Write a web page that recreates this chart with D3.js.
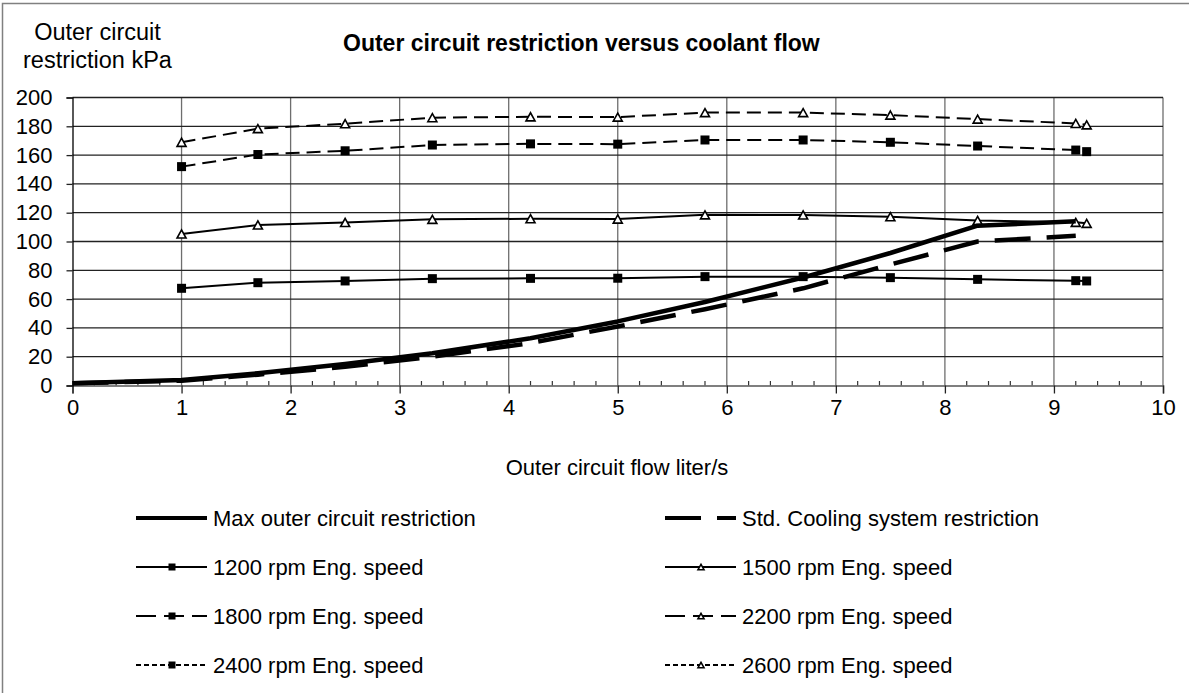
<!DOCTYPE html>
<html>
<head>
<meta charset="utf-8">
<script src="https://cdn.jsdelivr.net/npm/d3@7"></script>
<style>
  body { margin: 0; background: #fff; }
  svg { font-family: "Liberation Sans", Arial, sans-serif; }
</style>
</head>
<body>
<div class="chart"></div>
<script>
// flow points for the engine speed series (liter/s)
var flowX = [1, 1.7, 2.5, 3.3, 4.2, 5, 5.8, 6.7, 7.5, 8.3, 9.2, 9.3];
// flow points for the restriction curves
var curveX = [0, 1, 1.7, 2.5, 3.3, 4.2, 5, 5.8, 6.7, 7.5, 8.3, 9.2];

var maxRestriction = [1.5, 3.8, 8.5, 15, 22.4, 32.8, 44.5, 58, 75, 92, 111, 114];
var stdRestriction = [1.5, 3.3, 7.5, 13, 20, 29.5, 41, 53, 67.5, 84, 100, 104];

var rpm1200 = [67.5, 71.4, 72.6, 74.2, 74.4, 74.5, 75.6, 75.6, 74.9, 73.7, 72.8, 72.6];
var rpm1500 = [105.2, 111.5, 113.2, 115.4, 115.8, 115.6, 118.5, 118.4, 117.2, 114.6, 113.3, 112.6];
var rpm1800 = [152, 160.4, 163, 167, 167.8, 167.6, 170.5, 170.5, 168.9, 166.3, 163.5, 162.4];
var rpm2200 = [168.9, 178.4, 181.8, 186, 186.6, 186.4, 189.5, 189.5, 187.8, 185, 182, 181];
var rpm2400 = [];
var rpm2600 = [];

var seriesNames = [
  "Max outer circuit restriction", "Std. Cooling system restriction",
  "1200 rpm Eng. speed", "1500 rpm Eng. speed",
  "1800 rpm Eng. speed", "2200 rpm Eng. speed",
  "2400 rpm Eng. speed", "2600 rpm Eng. speed"
];
var yTicks = [0, 20, 40, 60, 80, 100, 120, 140, 160, 180, 200];
var xTicks = [0, 1, 2, 3, 4, 5, 6, 7, 8, 9, 10];

var titleText = "Outer circuit restriction versus coolant flow";
var yTitle = ["Outer circuit", "restriction kPa"];
var xTitle = "Outer circuit flow liter/s";

var svgWidth = 1189;
var svgHeight = 693;
var margin = { top: 97.5, left: 72.5 };
var width = 1090.5;
var height = 288;

var series = [
  { name: seriesNames[0], x: curveX, y: maxRestriction, width: 4.5, dash: null, marker: null },
  { name: seriesNames[1], x: curveX, y: stdRestriction, width: 4.5, dash: "36,16", marker: null },
  { name: seriesNames[2], x: flowX, y: rpm1200, width: 2, dash: null, marker: "square" },
  { name: seriesNames[3], x: flowX, y: rpm1500, width: 2, dash: null, marker: "triangle" },
  { name: seriesNames[4], x: flowX, y: rpm1800, width: 2, dash: "14,7", marker: "square" },
  { name: seriesNames[5], x: flowX, y: rpm2200, width: 2, dash: "14,7", marker: "triangle" },
  { name: seriesNames[6], x: flowX, y: rpm2400, width: 2, dash: "5,3", marker: "square" },
  { name: seriesNames[7], x: flowX, y: rpm2600, width: 2, dash: "5,3", marker: "triangle" }
];

var svg = d3.select(".chart")
  .append("svg")
  .attr("width", svgWidth)
  .attr("height", svgHeight);

// outer frame (only left and top edges show in the picture)
svg.append("rect")
  .attr("x", 2.5).attr("y", 3.5)
  .attr("width", svgWidth + 20).attr("height", svgHeight + 20)
  .attr("fill", "none").attr("stroke", "#808080").attr("stroke-width", 1.5);

var chart = svg.append("g")
  .attr("transform", "translate(" + margin.left + "," + margin.top + ")");

var xScale = d3.scaleLinear().domain([0, 10]).range([0, width]);
var yScale = d3.scaleLinear().domain([0, 200]).range([height, 0]);

// vertical gridlines
chart.append("g")
  .selectAll("line")
  .data(xTicks.slice(1))
  .enter().append("line")
    .attr("x1", function(d) { return xScale(d); })
    .attr("x2", function(d) { return xScale(d); })
    .attr("y1", 0).attr("y2", height)
    .attr("stroke", "#6e6e6e").attr("stroke-width", 1.3);

// horizontal gridlines
chart.append("g")
  .selectAll("line")
  .data(yTicks.slice(1))
  .enter().append("line")
    .attr("x1", 0).attr("x2", width)
    .attr("y1", function(d) { return yScale(d); })
    .attr("y2", function(d) { return yScale(d); })
    .attr("stroke", "#222").attr("stroke-width", 1.3);

// x axis with minor ticks
var minorTicks = d3.range(0, 50).map(function(i) { return i / 5; }).filter(function(d, i) { return i % 5 != 0; });
chart.append("g")
  .selectAll("line")
  .data(minorTicks)
  .enter().append("line")
    .attr("x1", function(d) { return xScale(d); })
    .attr("x2", function(d) { return xScale(d); })
    .attr("y1", height - 4.5).attr("y2", height)
    .attr("stroke", "#333").attr("stroke-width", 1.2);

var bottomAxis = d3.axisBottom(xScale).tickValues(xTicks).tickSize(8).tickPadding(6).tickFormat(d3.format("d"));
var xAxisG = chart.append("g")
  .attr("transform", "translate(0," + height + ")")
  .call(bottomAxis);
xAxisG.select(".domain").attr("stroke", "#555").attr("stroke-width", 1.5);
xAxisG.selectAll(".tick line").attr("stroke", "#222").attr("stroke-width", 1.3);
xAxisG.selectAll("text").attr("font-size", 22).attr("font-family", "Liberation Sans, Arial").attr("fill", "#000");

var leftAxis = d3.axisLeft(yScale).tickValues(yTicks).tickSize(6).tickPadding(14);
var yAxisG = chart.append("g").call(leftAxis);
yAxisG.select(".domain").attr("stroke", "#000").attr("stroke-width", 1.3);
yAxisG.selectAll(".tick line").attr("stroke", "#222").attr("stroke-width", 1.3);
yAxisG.selectAll("text").attr("font-size", 22).attr("font-family", "Liberation Sans, Arial").attr("fill", "#000");

// series lines
var line = d3.line()
  .x(function(d) { return xScale(d[0]); })
  .y(function(d) { return yScale(d[1]); });

function drawMarker(g, type, x, y, size) {
  if (type === "square") {
    g.append("rect")
      .attr("x", x - size / 2).attr("y", y - size / 2)
      .attr("width", size).attr("height", size)
      .attr("fill", "#000");
  } else if (type === "triangle") {
    var h = size * 0.9;
    g.append("path")
      .attr("d", "M" + x + "," + (y - h / 2) + "L" + (x + size / 2) + "," + (y + h / 2) + "L" + (x - size / 2) + "," + (y + h / 2) + "Z")
      .attr("fill", "#fff").attr("stroke", "#000").attr("stroke-width", 1.6);
  }
}

series.slice().reverse().forEach(function(s) {
  var pts = s.y.map(function(v, i) { return [s.x[i], v]; });
  if (!pts.length) return;
  chart.append("path")
    .datum(pts)
    .attr("d", line)
    .attr("fill", "none")
    .attr("stroke", "#000")
    .attr("stroke-width", s.width)
    .attr("stroke-linejoin", "round")
    .attr("stroke-dasharray", s.dash);
  if (s.marker) {
    var mg = chart.append("g");
    pts.forEach(function(p) {
      drawMarker(mg, s.marker, xScale(p[0]), yScale(p[1]), 9);
    });
  }
});

// titles
svg.append("text")
  .attr("x", 343).attr("y", 51)
  .attr("font-weight", "bold")
  .attr("font-size", 23)
  .text(titleText);

svg.selectAll(".ytitle")
  .data(yTitle)
  .enter().append("text")
    .attr("class", "ytitle")
    .attr("x", 97.5)
    .attr("y", function(d, i) { return 40 + i * 28; })
    .attr("text-anchor", "middle")
    .attr("font-size", 23.5)
    .text(function(d) { return d; });

svg.append("text")
  .attr("x", 617).attr("y", 475)
  .attr("text-anchor", "middle")
  .attr("font-size", 22)
  .text(xTitle);

// legend
var legend = svg.append("g");
series.forEach(function(s, i) {
  var col = i % 2, row = Math.floor(i / 2);
  var x0 = col === 0 ? 136 : 665;
  var y0 = 518 + row * 49;
  var g = legend.append("g");
  g.append("line")
    .attr("x1", x0).attr("x2", x0 + 71)
    .attr("y1", y0).attr("y2", y0)
    .attr("stroke", "#000")
    .attr("stroke-width", s.width === 2 ? 1.8 : 4)
    .attr("stroke-dasharray", s.dash === "14,7" ? "20,8" : s.dash);
  if (s.marker) drawMarker(g, s.marker, x0 + 36, y0, s.marker === "square" ? 7 : 6);
  g.append("text")
    .attr("x", x0 + 77).attr("y", y0 + 8)
    .attr("font-size", 22)
    .text(s.name);
});
</script>
</body>
</html>
